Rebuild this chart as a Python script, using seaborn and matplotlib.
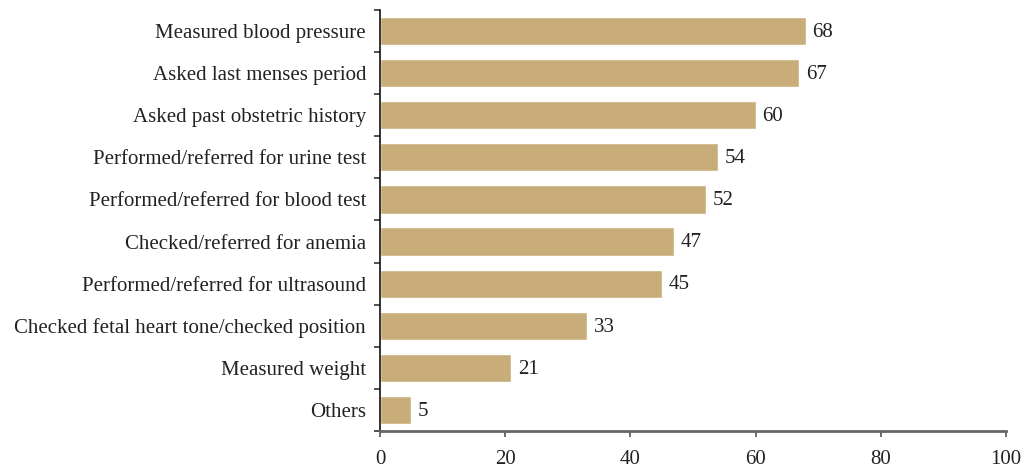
import matplotlib
matplotlib.use("Agg")
import matplotlib.pyplot as plt
import seaborn as sns
import pandas as pd
import numpy as np

categories = [
    "Measured blood pressure",
    "Asked last menses period",
    "Asked past obstetric history",
    "Performed/referred for urine test",
    "Performed/referred for blood test",
    "Checked/referred for anemia",
    "Performed/referred for ultrasound",
    "Checked fetal heart tone/checked position",
    "Measured weight",
    "Others",
]
values = [68, 67, 60, 54, 52, 47, 45, 33, 21, 5]
x_ticks = [0, 20, 40, 60, 80, 100]

sns.set_theme(style="white")
plt.rcParams["font.family"] = ["Liberation Serif", "DejaVu Serif"]

df = pd.DataFrame({"item": categories, "pct": values})

fig = plt.figure(figsize=(10.26, 4.70), dpi=100)
ax = fig.add_axes([380 / 1026, 1 - 431 / 470, (1006 - 380) / 1026, (431 - 10) / 470])

bar_color = "#C8AD7B"
fs = 15
sns.barplot(data=df, x="pct", y="item", orient="h", color=bar_color,
            saturation=1, width=0.67, ax=ax)

for i, v in enumerate(values):
    ax.text(v + 1.1, i + 0.03, str(v), va="center", ha="left", fontsize=fs, color="#222222")

ax.set_xlim(0, 100)
ax.set_ylim(len(categories) - 0.5, -0.5)
ax.set_xticks(x_ticks)
ax.set_xticklabels([str(t) for t in x_ticks], fontsize=fs, color="#222222")
ax.set_yticks(range(len(categories)))
ax.set_yticklabels(categories, fontsize=fs, color="#222222")
ax.set_yticks(np.arange(-0.5, len(categories), 1.0), minor=True)
ax.tick_params(axis="y", which="major", length=0, pad=10)
ax.tick_params(axis="y", which="minor", length=4.5, width=1.2, color="#333333", left=True)
ax.tick_params(axis="x", which="major", length=4.5, width=1.2, color="#555555",
               bottom=True, pad=9)
ax.set_xlabel("")
ax.set_ylabel("")

for side in ["top", "right"]:
    ax.spines[side].set_visible(False)
ax.spines["left"].set_color("#111111")
ax.spines["left"].set_linewidth(1.2)
ax.spines["bottom"].set_color("#666666")
ax.spines["bottom"].set_linewidth(2)

fig.savefig("out.png", dpi=100)
